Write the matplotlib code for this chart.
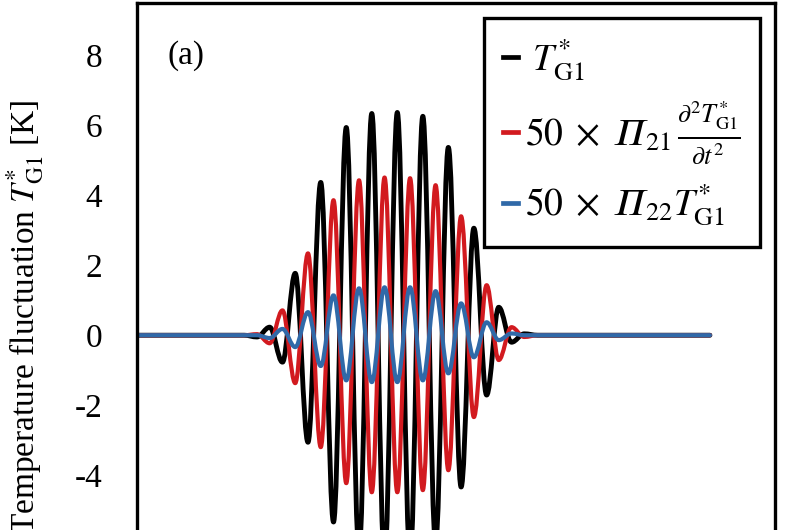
import matplotlib
matplotlib.use("Agg")
import matplotlib.pyplot as plt
from matplotlib.path import Path
from matplotlib.patches import PathPatch
from matplotlib.lines import Line2D
import matplotlib.transforms as mtransforms

plt.rcParams['font.family'] = ['Liberation Serif', 'DejaVu Serif']
plt.rcParams['mathtext.fontset'] = 'stix'

# ---------------- data ----------------
# times of successive extrema of the wave packet (arbitrary time units)
t_extrema = [16.8, 18.8, 20.8, 22.8, 24.8, 26.8, 28.8, 30.8, 32.8, 34.8, 36.8,
             38.8, 40.8, 42.8, 44.8, 46.8, 48.8, 50.8, 52.8, 54.8, 56.7, 58.7,
             60.7, 62.8]
t_start = 0.0
t_end = 89.8

T_G1 = [0.0, -0.05, 0.23, -0.77, 1.77, -3.06, 4.37, -5.34, 5.94, -6.2, 6.34,
        -6.45, 6.37, -6.4, 6.26, -5.95, 5.37, -4.34, 3.06, -1.71, 0.8, -0.2,
        0.04, 0.0]
term_P21 = [0.0, 0.03, -0.23, 0.71, -1.37, 2.34, -3.2, 3.86, -4.23, 4.43, -4.49,
            4.51, -4.49, 4.49, -4.43, 4.29, -3.86, 3.4, -2.34, 1.43, -0.71, 0.23,
            -0.05, 0.0]
term_P22 = [0.0, 0.0, -0.08, 0.18, -0.34, 0.66, -0.88, 1.14, -1.29, 1.34, -1.34,
            1.37, -1.34, 1.37, -1.29, 1.26, -1.09, 0.91, -0.63, 0.37, -0.14, 0.05,
            0.0, 0.0]

PI = '\U0001D6F1'  # mathematical italic capital pi
labels = [r'$\;T^{*}_{\rm G1}$',
          r'$50\;\times\;' + PI + r'_{21}\,\frac{\partial^2 T^{*}_{\rm G1}}{\partial t^2}$',
          r'$50\;\times\;' + PI + r'_{22}T^{*}_{\rm G1}$']
colors = ['#000000', '#D21A1F', '#3069A8']
widths = [3.5, 3.0, 3.0]
yticks = [-4, -2, 0, 2, 4, 6, 8]


def packet_path(ts, vs):
    pts = [(t_start, 0.0)] + list(zip(ts, vs)) + [(t_end, 0.0)]
    verts = [pts[0]]
    codes = [Path.MOVETO]
    k = 0.363
    for (x0, y0), (x1, y1) in zip(pts[:-1], pts[1:]):
        dx = x1 - x0
        verts += [(x0 + k * dx, y0), (x1 - k * dx, y1), (x1, y1)]
        codes += [Path.CURVE4] * 3
    return Path(verts, codes)


fig = plt.figure(figsize=(8, 5.3), dpi=100)
ax = fig.add_axes([0.17125, -0.2594, 0.7975, 1.2538])
ax.set_xlim(0, 100)
ax.set_ylim(-9.5, 9.5)

for vals, c, lw in zip([T_G1, term_P21, term_P22], colors, widths):
    patch = PathPatch(packet_path(t_extrema, vals), fill=False, edgecolor=c,
                      lw=lw, capstyle='round', joinstyle='round')
    ax.add_patch(patch)

for s in ax.spines.values():
    s.set_linewidth(2.4)
    s.set_color('black')

ax.set_yticks(yticks)
ax.set_yticklabels([str(v) for v in yticks])
ax.tick_params(axis='y', length=0, pad=25, labelsize=24)
ax.tick_params(axis='x', length=0, labelbottom=False)

ax.set_ylabel(r'Temperature fluctuation $T^{*}_{\rm G1}$ [K]', fontsize=24)
ax.yaxis.set_label_coords(-0.143, 0.528)

trans = mtransforms.blended_transform_factory(ax.transAxes, ax.transData)
ax.text(0.048, 8, '(a)', transform=trans, fontsize=24, va='center', ha='left')

handles = [Line2D([], [], color=c, lw=3.4) for c in colors]
leg = ax.legend(handles, labels, loc='upper right',
                bbox_to_anchor=(760 / 800, 1 - 18 / 530),
                bbox_transform=fig.transFigure, borderaxespad=0, fontsize=27,
                handlelength=0.4, handletextpad=0.2, labelspacing=0.42,
                borderpad=0.5, fancybox=False, framealpha=1, edgecolor='black')
leg.get_frame().set_linewidth(2.4)

fig.savefig('out.png', dpi=100)
